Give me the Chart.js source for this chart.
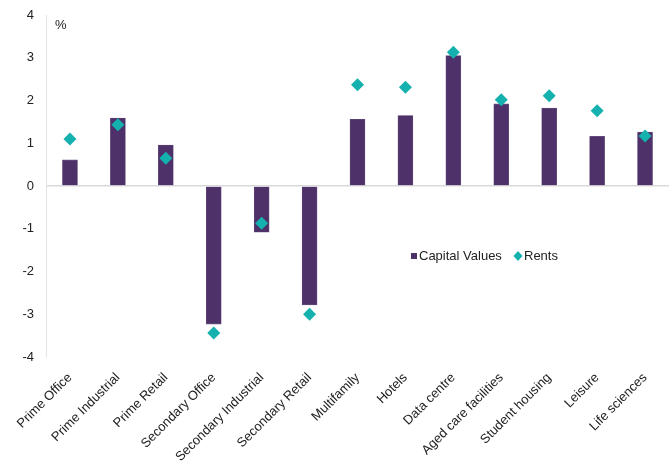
<!DOCTYPE html>
<html>
<head>
<meta charset="utf-8">
<script src="https://cdn.jsdelivr.net/npm/chart.js@4/dist/chart.umd.min.js"></script>
<style>
  html, body { margin: 0; padding: 0; background: #fff; }
  #c { display: block; }
</style>
</head>
<body>
<canvas id="c" width="670" height="469"></canvas>
<script>
const categories = ["Prime Office", "Prime Industrial", "Prime Retail", "Secondary Office", "Secondary Industrial", "Secondary Retail", "Multifamily", "Hotels", "Data centre", "Aged care facilities", "Student housing", "Leisure", "Life sciences"];
const capitalValues = [0.61, 1.59, 0.96, -3.23, -1.08, -2.78, 1.56, 1.65, 3.05, 1.92, 1.82, 1.16, 1.26];
const rents = [1.10, 1.43, 0.65, -3.44, -0.87, -3.00, 2.37, 2.31, 3.13, 2.02, 2.11, 1.76, 1.17];
const yTicks = [-4, -3, -2, -1, 0, 1, 2, 3, 4];
const unitLabel = "%";

const FONT = "'Liberation Sans', Arial, sans-serif";
const BAR = "#4d3168";
const TEAL = "#14b1ae";

const overlay = {
  id: 'overlay',
  afterDraw(chart) {
    const ctx = chart.ctx;
    const a = chart.chartArea;
    ctx.save();
    ctx.fillStyle = '#222';
    ctx.font = "13px " + FONT;
    ctx.textBaseline = 'middle';
    ctx.textAlign = 'left';
    ctx.fillText(unitLabel, a.left + 9, a.top + 10);
    // legend
    const ly = a.top + 241;
    let lx = a.left + 365;
    ctx.fillStyle = BAR;
    ctx.fillRect(lx, ly - 3, 6, 6);
    ctx.fillStyle = '#222';
    ctx.fillText(chart.data.datasets[0].label, lx + 8, ly);
    lx = a.left + 472;
    ctx.fillStyle = TEAL;
    ctx.beginPath();
    ctx.moveTo(lx, ly - 5);
    ctx.lineTo(lx + 4.5, ly);
    ctx.lineTo(lx, ly + 5);
    ctx.lineTo(lx - 4.5, ly);
    ctx.closePath();
    ctx.fill();
    ctx.fillStyle = '#222';
    ctx.fillText(chart.data.datasets[1].label, lx + 6, ly);
    ctx.restore();
  }
};

new Chart(document.getElementById('c'), {
  data: {
    labels: categories,
    datasets: [
      {
        type: 'bar',
        label: 'Capital Values',
        data: capitalValues,
        backgroundColor: BAR,
        borderColor: '#6b5384',
        borderWidth: 0.6,
        barThickness: 15,
        order: 2
      },
      {
        type: 'line',
        label: 'Rents',
        data: rents,
        showLine: false,
        pointStyle: 'rectRot',
        pointRadius: 6.5,
        pointHoverRadius: 6.5,
        backgroundColor: TEAL,
        borderColor: TEAL,
        borderWidth: 0,
        clip: false,
        order: 1
      }
    ]
  },
  options: {
    responsive: false,
    animation: false,
    events: [],
    layout: { autoPadding: false, padding: { top: 15, right: 1, left: 0, bottom: 0 } },
    plugins: {
      legend: { display: false },
      tooltip: { enabled: false }
    },
    scales: {
      x: {
        grid: { display: false },
        border: { display: false },
        ticks: {
          color: '#222',
          font: { family: FONT, size: 13 },
          maxRotation: 45,
          minRotation: 45,
          autoSkip: false,
          padding: 5
        },
        afterFit(scale) {
          scale.height = 112;
          scale.paddingRight = 0;
          scale.paddingLeft = 0;
        }
      },
      y: {
        min: -4,
        max: 4,
        afterBuildTicks(scale) { scale.ticks = yTicks.map(v => ({ value: v })); },
        grid: {
          drawTicks: false,
          color: (c) => (c.tick && c.tick.value === 0) ? '#d9d9d9' : 'rgba(0,0,0,0)',
          lineWidth: 1.5
        },
        border: { display: true, color: '#e3e3e3', width: 1 },
        ticks: {
          color: '#222',
          font: { family: FONT, size: 13 },
          padding: 12
        },
        afterFit(scale) {
          scale.width = 46;
          scale.paddingTop = 0;
          scale.paddingBottom = 0;
        }
      }
    }
  },
  plugins: [overlay]
});
</script>
</body>
</html>
